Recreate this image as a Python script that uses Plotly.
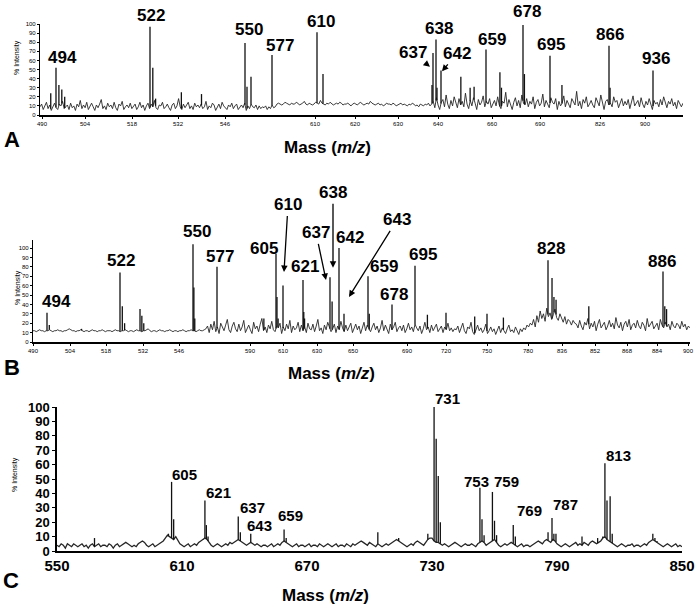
import numpy as np
import plotly.graph_objects as go

W, H = 700, 609
FONT = "Liberation Sans, Arial, sans-serif"

# ======================= PANEL A =======================
a_peak_mz = [492.5, 494, 495, 496, 497, 522, 523, 524, 533, 539, 550, 551, 553, 577,
             610.5, 612, 636.8, 637, 638, 639, 642, 649.5, 653, 654.5, 659, 664.6,
             665.5, 678, 679, 695, 717, 866, 867, 936]
a_peak_int = [24, 52, 33, 28, 20, 97, 52, 18, 25, 23, 79, 31, 42, 66,
              91, 45, 33, 68, 83, 30, 49, 42, 30, 31, 72, 47,
              30, 99, 45, 65, 33, 76, 30, 49]
a_noise = [9, 12, 6, 10, 14, 7, 11, 5, 9, 13, 8, 6, 12, 10, 15, 7, 9, 11, 6, 13,
           8, 10, 5, 12, 9, 16, 7, 11, 8, 14, 6, 10, 13, 9, 5, 11, 8, 12, 17, 7,
           10, 6, 13, 9, 11, 7, 14, 8, 5, 12, 10, 15, 6, 9, 11, 8, 13, 7, 10, 12,
           6, 9, 14, 8, 11, 5, 10, 13, 7, 12, 9, 16, 8, 6, 11, 10, 14, 7, 9, 12,
           8, 5, 11, 13, 7, 10, 18, 9, 6, 12, 8, 11, 14, 7, 10, 6, 13, 9, 11, 8,
           12, 7, 9, 15, 6, 10, 8, 13, 11, 5, 9, 12, 7, 14, 10, 8, 6, 11, 9, 13,
           7, 10, 12, 6, 9, 11, 8, 13, 5, 10, 7, 12, 9, 8, 11, 6, 10, 7, 9, 8,
           10, 6, 9, 7, 11, 8, 9,
           12, 13, 12, 11, 12, 14, 13, 12, 11, 13, 12, 12, 14, 13, 11, 12, 13, 15, 12, 11,
           13, 12, 11, 12, 14, 13, 12, 16, 13, 12, 11, 13, 12, 14, 12, 11, 12, 13, 12, 14,
           13, 11, 12, 12, 13, 11, 10, 12, 13, 12, 11, 13, 14, 12, 11, 12, 13, 12, 15, 13,
           12, 11, 12, 13, 11, 12, 10, 11, 13, 12, 12, 11, 13, 12, 10, 11, 12, 13, 11, 12,
           11, 10, 12, 11, 13, 12, 10, 11, 9, 12, 11, 10, 12, 11, 13, 10, 12,
           15, 8, 19, 11, 6, 14, 17, 9, 22, 12, 7, 16, 10, 20, 13, 8, 18, 11, 15, 9,
           24, 12, 7, 16, 10, 19, 13, 6, 17, 11, 14, 21, 9, 15, 12, 18, 8, 13, 16, 10,
           20, 11, 7, 15, 13, 25, 9, 17, 12, 6, 14, 19, 10, 16, 8, 22, 13, 11, 18, 9,
           15, 12, 20, 7, 14, 17, 10, 13, 23, 9, 16, 11, 8, 19, 14, 12, 18, 6, 15, 10,
           13, 21, 9, 16, 12, 8, 18, 14, 11, 26, 10, 15, 7, 17, 13, 20, 9, 12, 16, 11,
           8, 19, 14, 10, 22, 12, 6, 15, 17, 11, 13, 9, 20, 14, 16, 8, 12, 18, 10, 15,
           11, 17, 7, 14, 21, 10, 13, 16, 9, 19, 12, 8, 15, 11, 18, 13, 6, 16, 12, 14,
           9, 17, 11, 20, 13, 8, 15, 12, 18, 10, 14, 7, 16, 12, 9, 13]
a_tick_mz = [490, 504, 518, 532, 546, 610, 620, 630, 640, 660, 690, 826, 900]
a_label_mz = [494, 522, 550, 577, 610.5, 638, 659, 678, 695, 866, 936]
a_label_txt = ["494", "522", "550", "577", "610", "638", "659", "678", "695", "866", "936"]
a_arrow_txt = ["637", "642"]
a_arrow_mz = [637, 642]
a_arrow_int = [53, 48]

# ======================= PANEL B =======================
b_peak_mz = [494, 495, 508.5, 522, 523, 524, 530.7, 531.5, 532.3, 550, 551, 552, 577,
             598, 605, 605.7, 606.5, 610, 621, 621.5, 622, 637, 637.7, 642, 642.5,
             659, 660, 678, 695, 705, 720, 741, 750, 762, 828, 830.3, 831.4, 832.6,
             849, 886, 887, 888]
b_peak_int = [31, 18, 14, 74, 38, 20, 35, 28, 20, 104, 58, 25, 80,
              25, 94, 48, 25, 60, 66, 32, 25, 69, 43, 100, 30,
              70, 30, 40, 81, 29, 31, 27, 30, 26, 87, 68, 48, 45,
              38, 75, 38, 35]
b_noise = [12, 12, 11, 12, 13, 12, 12, 11, 12, 12, 13, 12, 11, 12, 12, 13, 12, 12, 11, 12,
           12, 13, 14, 13, 12, 12, 11, 12, 12, 13, 12, 11, 12, 12, 11, 12, 13, 12, 12, 11,
           12, 12, 13, 12, 11, 12, 12, 12, 11, 12, 13, 12, 12, 11, 12, 12, 13, 12, 11, 12,
           12, 11, 12, 13, 12, 12, 11, 12, 12, 13, 14, 12, 11, 12, 12, 11, 12, 13, 12, 12,
           11, 12, 12, 13, 12, 11, 12, 12, 11, 12, 12, 13, 12, 11, 12, 12, 13, 12, 12, 11,
           12, 13, 12, 12, 13,
           14, 17, 10, 19, 13, 22, 11, 16, 9, 20, 15, 12, 18, 24, 13, 10, 17, 21, 14, 11,
           19, 12, 16, 23, 10, 15, 18, 13, 9, 21, 14, 17, 11, 19, 25, 12, 16, 10, 18, 14,
           22, 13, 11, 17, 15, 20, 9, 16, 12, 19, 14, 23, 10, 17, 13, 15, 21, 11, 18, 12,
           16, 10, 20, 14, 13, 19, 11, 17, 24, 12, 15, 9, 18, 13, 21, 16, 11, 14, 19, 10,
           17, 13, 22, 15, 11, 18, 12, 16, 20, 10, 14, 19, 13, 17, 9, 15, 21, 12, 18, 14,
           11, 16, 20, 13, 17, 10, 15, 23, 12, 18, 14, 9, 19, 13, 16, 21, 11, 15, 17, 12,
           18, 10, 14, 20, 13, 16, 11, 19, 15, 12, 17, 9, 14, 21, 13, 16, 10, 18, 12, 15,
           19, 11, 14, 17, 10, 16, 13, 20, 12, 15, 11, 14,
           13, 17, 10, 15, 20, 12, 9, 16, 14, 21, 11, 8, 14, 18, 12, 15, 10, 13, 19, 9,
           12, 16, 11, 14, 8, 13, 17, 10, 15, 12, 9, 14, 18, 11, 13, 10, 16, 12, 8, 14,
           11, 15, 13, 18, 16, 20,
           18, 24, 16, 28, 21, 33, 25, 30, 22, 36, 27, 31, 24, 29, 35, 26, 23, 30, 25, 21,
           27, 19, 24, 22, 18, 23, 20,
           19, 15, 23, 17, 13, 21, 18, 25, 14, 20, 16, 22, 12, 19, 24, 15, 18, 21, 13, 17,
           23, 16, 20, 14, 26, 18, 15, 21, 12, 19, 22, 16, 24, 13, 18, 20, 15, 23, 17, 14,
           21, 18, 12, 25, 16, 19, 22, 14, 17, 20, 13, 24, 18, 15, 21, 16, 19, 13, 22, 17,
           15, 20, 18, 14, 22, 16, 19, 13, 17, 15]
b_tick_mz = [490, 504, 518, 532, 546, 590, 610, 630, 650, 690, 720, 750, 780, 836, 852, 868, 884, 900]
b_label_mz = [494, 522, 550, 577, 605, 621, 642, 659, 678, 695, 828, 886]
b_label_txt = ["494", "522", "550", "577", "605", "621", "642", "659", "678", "695", "828", "886"]
b_arrow_txt = ["610", "637", "638", "643"]
b_arrow_mz = [610, 637, 638, 643]
b_arrow_int = [74.5, 66, 79, 48]

# ======================= PANEL C =======================
c_peak_mz = [568, 603.5, 605, 606, 607, 620.3, 621, 621.7, 622.5, 637, 638, 643, 659, 660,
             704, 714, 728, 731, 732, 733, 734, 753, 754, 755, 759, 760, 761, 769, 770,
             785.7, 787.6, 788.5, 789.5, 802, 809.5, 812, 813, 814, 815.5, 816.5, 836, 837, 838]
c_peak_int = [9, 12, 48, 22, 10, 8, 35, 18, 10, 24, 13, 12, 15, 9,
              13, 9, 12, 100, 78, 52, 20, 44, 22, 11, 41, 21, 11, 18, 10,
              13, 23, 12, 12, 10, 9, 10, 61, 35, 38, 12, 12, 9, 7]
c_noise = [4, 3, 5, 4, 2, 5, 4, 3, 5, 4, 3, 4, 5, 3, 4, 2, 4, 5, 3, 4,
           5, 3, 4, 4, 3, 5, 4, 2, 4, 5, 3, 4, 5, 6, 5, 4, 3, 4, 3, 5,
           6, 7, 6, 4, 3, 4, 5, 3, 4, 5, 6, 7, 9, 11, 10, 9, 8, 10, 7, 5,
           4, 3, 4, 5, 3, 4, 5, 4, 6, 7, 8, 9, 8, 6, 4, 3, 4, 5, 4, 3,
           4, 5, 4, 6, 5, 6, 7, 8, 7, 6, 5, 4, 5, 6, 5, 4, 5, 4, 3, 4,
           4, 3, 4, 5, 3, 4, 5, 4, 6, 7, 6, 5, 4, 3, 4, 5, 3, 4, 4, 3,
           4, 5, 3, 4, 4, 3, 5, 4, 3, 4, 5, 4, 3, 4, 5, 3, 4, 4, 3, 5,
           4, 3, 5, 4, 5, 6, 7, 6, 5, 4, 6, 5, 4, 3, 5, 4, 3, 4, 5, 4,
           5, 6, 7, 8, 7, 6, 5, 4, 3, 4, 5, 4, 6, 7, 6, 5, 4, 6, 8, 9,
           9, 7, 6, 6, 5, 4, 5, 4, 3, 4, 5, 6, 5, 4, 3, 4, 5, 4, 4, 5,
           4, 3, 5, 6, 7, 6, 4, 5, 6, 7, 8, 6, 4, 3, 4, 5, 4, 5, 6, 5,
           4, 3, 4, 5, 3, 4, 4, 3, 4, 5, 6, 7, 6, 5, 7, 8, 7, 6, 8, 7,
           5, 4, 3, 4, 5, 4, 3, 4, 5, 6, 4, 5, 4, 6, 5, 4, 6, 7, 6, 5,
           6, 7, 9, 10, 8, 7, 6, 5, 4, 3, 4, 5, 4, 3, 4, 4, 5, 3, 4, 4,
           3, 4, 5, 4, 6, 7, 8, 7, 6, 5, 4, 3, 4, 5, 4, 3, 4, 5, 3, 4,
           3]
c_tick_mz = [550, 610, 670, 730, 790, 850]
c_label_mz = [605, 621, 637, 643, 659, 731, 753, 759, 769, 787.6, 813]
c_label_txt = ["605", "621", "637", "643", "659", "731", "753", "759", "769", "787", "813"]

# ============ layout: broken (spliced) m/z axes of panels A and B ============
# calibration knots: m/z -> horizontal position on the spliced axis
a_knot_mz = [489.4, 490, 494, 504, 518, 522, 532, 546, 550, 556, 577, 580, 601.5, 610, 620,
             630, 637, 638, 640, 642, 659, 660, 678, 690, 695, 700, 826, 866, 900, 936, 955]
a_knot_pos = [40, 42, 56, 85, 132, 150, 178, 225, 245, 257, 272, 277, 279, 315, 355,
              398, 433, 436, 438, 441, 486, 492, 523, 540, 550, 556, 600, 609, 645, 653, 683]
b_knot_mz = [489, 490, 494, 504, 518, 522, 532, 546, 550, 577, 590, 605, 610, 621, 630, 637,
             638, 642, 643, 650, 659, 678, 690, 695, 720, 750, 780, 828, 836, 852, 868, 884,
             886, 900, 905]
b_knot_pos = [31, 33, 47, 70, 106, 120, 143, 179, 193, 217, 250, 276, 283, 303, 317, 330,
              333, 339, 349, 353, 368, 392, 407, 415, 446, 487, 528, 548, 562, 595, 627, 657,
              663, 688, 690]

# label offsets (px): horizontal shift, vertical gap of digits above peak top
a_lab_dx = [6, 1, 4, 8, 4, 3, 6, 4, 1, 1, 3]
a_lab_gap = [3, 4, 6, 2, 3, 3, 2, 6, 4, 4, 4]
a_arr_shift = [-3, 1]
a_arr_ax = [-17, 15]
a_arr_ay = [-14, -18]
b_lab_dx = [9, 1, 4, 3, -12, 2, 11, 16, 2, 8, 3, -1]
b_lab_gap = [4, 4, 5, 3, -2, 6, 3, 2, 2, 4, 4, 3]
b_arr_shift = [1, -4, 0, 0]
b_arr_ax = [4, -10, 0, 48]
b_arr_ay = [-67, -47, -75, -77]
c_lab_dx = [12.5, 13.5, 14, 9, 6.5, 13, -3, 14, 16, 13, 14]
c_lab_gap = [1, 2, 2, 2, 7, 2, 0, 4, 8, 7, 1]


def cal(mz, kmz, kpos):
    return np.interp(np.asarray(mz, dtype=float), kmz, kpos)


def spectrum_traces(nx, ny, px, py, xa, ya, lw=0.9):
    nx = np.asarray(nx, float)
    ny = np.asarray(ny, float)
    base = np.interp(px, nx, ny)
    sx, sy = [], []
    for x, b, h in zip(px, base, py):
        sx += [x, x, None]
        sy += [b, h, None]
    return [
        go.Scatter(x=nx, y=ny, mode="lines", line=dict(color="#262626", width=lw),
                   xaxis=xa, yaxis=ya, hoverinfo="skip", showlegend=False),
        go.Scatter(x=sx, y=sy, mode="lines", line=dict(color="#111111", width=1.3),
                   xaxis=xa, yaxis=ya, hoverinfo="skip", showlegend=False),
    ]


fig = go.Figure()

a_x0, a_x1 = 40, 683
a_nx = np.linspace(a_x0, a_x1, len(a_noise))
a_px = cal(a_peak_mz, a_knot_mz, a_knot_pos)
for t in spectrum_traces(a_nx, a_noise, a_px, a_peak_int, "x", "y"):
    fig.add_trace(t)

b_x0, b_x1 = 33, 690
b_nx = np.linspace(b_x0, b_x1, len(b_noise))
b_px = cal(b_peak_mz, b_knot_mz, b_knot_pos)
for t in spectrum_traces(b_nx, b_noise, b_px, b_peak_int, "x2", "y2"):
    fig.add_trace(t)

c_nx = np.linspace(550, 850, len(c_noise))
for t in spectrum_traces(c_nx, c_noise, np.asarray(c_peak_mz, float), c_peak_int, "x3", "y3", lw=1.3):
    fig.add_trace(t)


def ypaper(py):
    return 1 - py / H


small_tick = dict(family=FONT, size=6, color="black")
common_axis = dict(showgrid=False, zeroline=False, showline=True, linecolor="black",
                   mirror=False, fixedrange=True, automargin=False)

fig.update_layout(
    width=W, height=H, margin=dict(l=0, r=0, t=0, b=0, pad=0, autoexpand=False),
    paper_bgcolor="white", plot_bgcolor="white", showlegend=False,
    xaxis=dict(domain=[a_x0 / W, a_x1 / W], range=[a_x0, a_x1], anchor="y",
               tickvals=list(cal(a_tick_mz, a_knot_mz, a_knot_pos)),
               ticktext=[str(t) for t in a_tick_mz], tickfont=small_tick,
               ticks="outside", ticklen=2, tickcolor="black", linewidth=1.5, **common_axis),
    yaxis=dict(domain=[ypaper(115), ypaper(24)], range=[0, 100], anchor="x",
               tickvals=list(range(0, 101, 10)), tickfont=small_tick,
               ticks="outside", ticklen=2, tickcolor="black", linewidth=1.2, **common_axis),
    xaxis2=dict(domain=[b_x0 / W, b_x1 / W], range=[b_x0, b_x1], anchor="y2",
                tickvals=list(cal(b_tick_mz, b_knot_mz, b_knot_pos)),
                ticktext=[str(t) for t in b_tick_mz], tickfont=small_tick,
                ticks="outside", ticklen=2, tickcolor="black", linewidth=1.5, **common_axis),
    yaxis2=dict(domain=[ypaper(342), ypaper(342 - 108 * 0.94)], range=[0, 108], anchor="x2",
                tickvals=list(range(0, 101, 10)), tickfont=small_tick,
                ticks="outside", ticklen=2, tickcolor="black", linewidth=1.2, **common_axis),
    xaxis3=dict(domain=[57 / W, 682 / W], range=[550, 850], anchor="y3",
                tickvals=c_tick_mz, tickfont=dict(family=FONT, size=15, color="black", weight="bold"),
                ticks="", linewidth=2, **common_axis),
    yaxis3=dict(domain=[ypaper(551), ypaper(407)], range=[0, 100], anchor="x3",
                tickvals=list(range(0, 101, 10)),
                tickfont=dict(family=FONT, size=13, color="black", weight="bold"),
                ticks="outside", ticklen=3, tickcolor="black", linewidth=1.5, **common_axis),
)

ann = []


def peak_labels(mzs, txts, dxs, gaps, pk_mz, pk_int, xref, yref, size, conv=None):
    lookup = dict(zip(pk_mz, pk_int))
    for m, t, dx, g in zip(mzs, txts, dxs, gaps):
        xv = float(conv(m)) if conv else m
        ann.append(dict(x=xv, y=lookup[m], xref=xref, yref=yref, text="<b>%s</b>" % t,
                        showarrow=False, xanchor="center", yanchor="bottom",
                        xshift=dx, yshift=g - 4,
                        font=dict(family=FONT, size=size, color="black")))


def arrow_labels(txts, mzs, ys, shifts, axs, ays, xref, yref, conv):
    for t, m, yv, s, ax, ay in zip(txts, mzs, ys, shifts, axs, ays):
        ann.append(dict(x=float(conv(m)), y=yv, xref=xref, yref=yref, text="<b>%s</b>" % t,
                        showarrow=True, arrowhead=2, arrowsize=1, arrowwidth=1.3,
                        arrowcolor="black", ax=ax, ay=ay, xshift=s,
                        font=dict(family=FONT, size=17, color="black")))


convA = lambda m: cal(m, a_knot_mz, a_knot_pos)
convB = lambda m: cal(m, b_knot_mz, b_knot_pos)
peak_labels(a_label_mz, a_label_txt, a_lab_dx, a_lab_gap, a_peak_mz, a_peak_int, "x", "y", 17, convA)
arrow_labels(a_arrow_txt, a_arrow_mz, a_arrow_int, a_arr_shift, a_arr_ax, a_arr_ay, "x", "y", convA)
peak_labels(b_label_mz, b_label_txt, b_lab_dx, b_lab_gap, b_peak_mz, b_peak_int, "x2", "y2", 17, convB)
arrow_labels(b_arrow_txt, b_arrow_mz, b_arrow_int, b_arr_shift, b_arr_ax, b_arr_ay, "x2", "y2", convB)
peak_labels(c_label_mz, c_label_txt, c_lab_dx, c_lab_gap, c_peak_mz, c_peak_int, "x3", "y3", 15)

for (ycen, xcen) in [(147, 327), (373, 331), (595, 325)]:
    ann.append(dict(x=xcen / W, y=ypaper(ycen), xref="paper", yref="paper", showarrow=False,
                    text="<b>Mass (<i>m/z</i>)</b>", xanchor="center", yanchor="middle",
                    font=dict(family=FONT, size=17, color="black")))
for (letter, xc, yc) in [("A", 12, 140), ("B", 12, 367), ("C", 11, 580)]:
    ann.append(dict(x=xc / W, y=ypaper(yc), xref="paper", yref="paper", showarrow=False,
                    text="<b>%s</b>" % letter, xanchor="center", yanchor="middle",
                    font=dict(family=FONT, size=22, color="black")))
for (xc, yc) in [(17, 58), (18, 288), (15, 475)]:
    ann.append(dict(x=xc / W, y=ypaper(yc), xref="paper", yref="paper", showarrow=False,
                    text="% Intensity", textangle=-90, xanchor="center", yanchor="middle",
                    font=dict(family=FONT, size=7, color="black")))

fig.update_layout(annotations=ann)
fig.write_html("out.html", config={"displayModeBar": False},
               post_script="document.body.style.margin='0px';")
